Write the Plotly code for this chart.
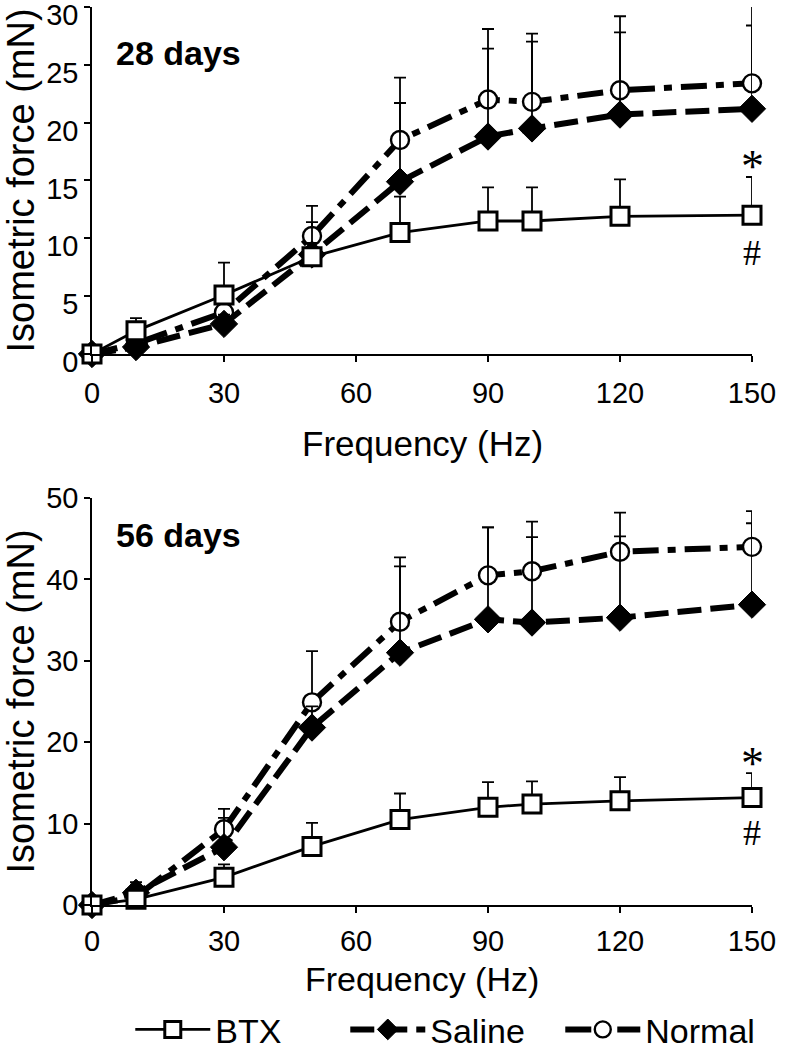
import plotly.graph_objects as go
from plotly.subplots import make_subplots

freq = [0, 10, 30, 50, 70, 90, 100, 120, 150]

# 28 days
btx28 = [0, 2.0, 5.1, 8.4, 10.5, 11.5, 11.5, 11.9, 12.0]
btx28_err = [0, 1.1, 2.8, 1.2, 3.1, 2.9, 2.9, 3.2, 3.3]
sal28 = [0, 0.6, 2.6, 8.6, 14.9, 18.8, 19.5, 20.7, 21.2]
sal28_err = [0, 0.6, 0.8, 2.8, 6.8, 7.6, 7.5, 7.1, 7.2]
nor28 = [0, 0.9, 3.6, 10.2, 18.5, 22.0, 21.8, 22.8, 23.4]
nor28_err = [0, 0.5, 0.9, 2.6, 5.4, 6.1, 5.9, 6.4, 6.7]

# 56 days
btx56 = [0, 0.7, 3.4, 7.2, 10.5, 12.0, 12.4, 12.8, 13.2]
btx56_err = [0, 1.0, 1.6, 2.9, 3.2, 3.1, 2.8, 2.9, 3.0]
sal56 = [0, 1.5, 7.1, 21.8, 31.0, 35.1, 34.7, 35.3, 36.9]
sal56_err = [0, 1.3, 3.6, 2.6, 10.6, 11.3, 10.5, 10.0, 10.0]
nor56 = [0, 1.0, 9.3, 24.9, 34.8, 40.5, 41.0, 43.4, 44.0]
nor56_err = [0, 1.5, 2.5, 6.3, 7.9, 5.9, 6.1, 4.8, 4.4]

x_ticks = [0, 30, 60, 90, 120, 150]
y_ticks28 = [0, 5, 10, 15, 20, 25, 30]
y_ticks56 = [0, 10, 20, 30, 40, 50]

FONT = "Liberation Sans, Arial"

fig = make_subplots(rows=2, cols=1, vertical_spacing=0.0)

def add_series(row, y, err, name, show, rank, line, marker):
    fig.add_trace(go.Scatter(
        x=freq, y=y, name=name, mode="lines+markers",
        showlegend=show, legendrank=rank, cliponaxis=False,
        line=line, marker=marker,
        error_y=dict(type="data", array=err, arrayminus=[0]*len(err), symmetric=False,
                     color="black", thickness=1.8, width=6),
    ), row=row, col=1)

sal_line = dict(color="black", width=6, dash="24px,9px")
nor_line = dict(color="black", width=6, dash="26px,9px,8px,9px")
btx_line = dict(color="black", width=2.8)
sal_marker = dict(symbol="diamond", size=21, color="black", line=dict(color="black", width=1))
nor_marker = dict(symbol="circle", size=18, color="white", line=dict(color="black", width=2.4))
btx_marker = dict(symbol="square", size=18, color="white", line=dict(color="black", width=3))

for row, (b, be, s, se, n, ne) in enumerate([
        (btx28, btx28_err, sal28, sal28_err, nor28, nor28_err),
        (btx56, btx56_err, sal56, sal56_err, nor56, nor56_err)], start=1):
    show = row == 1
    add_series(row, n, ne, "Normal", show, 3, nor_line, nor_marker)
    add_series(row, s, se, "Saline", show, 2, sal_line, sal_marker)
    add_series(row, b, be, "BTX", show, 1, btx_line, btx_marker)

axis_common = dict(showline=True, linecolor="black", linewidth=1.5, ticks="outside",
                   ticklen=6, tickwidth=1.5, tickcolor="black", showgrid=False,
                   zeroline=False, automargin=False, ticklabeloverflow="allow",
                   tickfont=dict(family=FONT, size=29, color="black"))

fig.update_xaxes(range=[0, 150], tickvals=x_ticks, **axis_common)
fig.update_xaxes(ticklabelstandoff=6, row=1, col=1)
fig.update_xaxes(ticklabelstandoff=3, row=2, col=1)
fig.update_yaxes(**axis_common)
fig.update_yaxes(range=[0, 30], tickvals=y_ticks28, ticklabelshift=8, row=1, col=1,
                 title=dict(text="Isometric force (mN)", font=dict(family=FONT, size=38, color="black"),
                            standoff=2))
fig.update_yaxes(range=[0, 50], tickvals=y_ticks56, row=2, col=1,
                 title=dict(text="Isometric force (mN)", font=dict(family=FONT, size=38, color="black"),
                            standoff=2))

fig.update_layout(
    xaxis=dict(domain=[0, 1]), yaxis=dict(domain=[0.6136, 1.0]),
    xaxis2=dict(domain=[0, 1]), yaxis2=dict(domain=[0.0, 0.4532]),
)

annos = [
    dict(text="Frequency (Hz)", x=0.5, y=0.5140, xref="paper", yref="paper", xanchor="center",
         yanchor="middle", font=dict(family=FONT, size=35, color="black"), showarrow=False),
    dict(text="Frequency (Hz)", x=0.5, y=-0.0825, xref="paper", yref="paper", xanchor="center",
         yanchor="middle", font=dict(family=FONT, size=34, color="black"), showarrow=False),
    dict(text="<b>28 days</b>", x=5, y=26.0, xref="x", yref="y", xanchor="left", yanchor="middle",
         font=dict(family=FONT, size=34, color="black"), showarrow=False),
    dict(text="<b>56 days</b>", x=5, y=45.4, xref="x2", yref="y2", xanchor="left", yanchor="middle",
         font=dict(family=FONT, size=34, color="black"), showarrow=False),
    dict(text="*", x=150, y=16.2, xref="x", yref="y", xanchor="center", yanchor="middle",
         font=dict(family="Liberation Serif, Times New Roman", size=46, color="black"), showarrow=False),
    dict(text="#", x=150, y=8.7, xref="x", yref="y", xanchor="center", yanchor="middle",
         font=dict(family="Liberation Serif, Times New Roman", size=36, color="black"), showarrow=False),
    dict(text="*", x=150, y=17.4, xref="x2", yref="y2", xanchor="center", yanchor="middle",
         font=dict(family="Liberation Serif, Times New Roman", size=46, color="black"), showarrow=False),
    dict(text="#", x=150, y=8.8, xref="x2", yref="y2", xanchor="center", yanchor="middle",
         font=dict(family="Liberation Serif, Times New Roman", size=36, color="black"), showarrow=False),
]

fig.update_layout(
    width=791, height=1050,
    margin=dict(l=92, r=39, t=7, b=145, autoexpand=False),
    plot_bgcolor="white", paper_bgcolor="white",
    annotations=annos,
    legend=dict(orientation="h", x=0.058, y=-0.139, xanchor="left", yanchor="middle",
                font=dict(family=FONT, size=34, color="black"), itemwidth=75,
                entrywidth=125, traceorder="normal", bgcolor="rgba(0,0,0,0)"),
)

fig.write_html("out.html", config={"displayModeBar": False},
               post_script="document.body.style.margin='0px';")
